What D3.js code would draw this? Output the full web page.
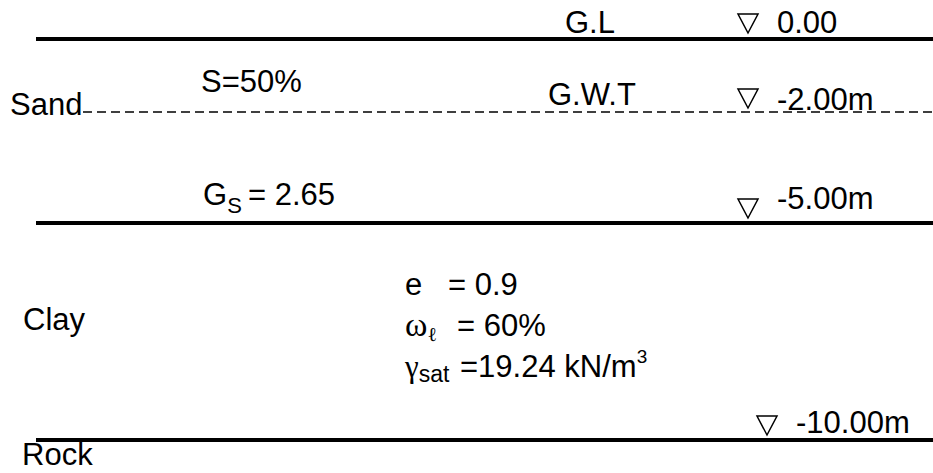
<!DOCTYPE html>
<html>
<head>
<meta charset="utf-8">
<script src="https://cdn.jsdelivr.net/npm/d3@7"></script>
<style>
    body { margin: 0; background: #fff; }
    #vis { display: block; }
</style>
</head>
<body>
<svg id="vis" width="933" height="473"></svg>
<script>
// soil profile data
var levelDepths = [0, 2, 5, 10];
var levelLabels = ['0.00', '-2.00m', '-5.00m', '-10.00m'];
var levelLineTypes = ['solid', 'dashed', 'solid', 'solid'];
var levelNames = ['G.L', 'G.W.T', '', ''];

var layerNames = ['Sand', 'Clay', 'Rock'];

var sandSaturation = '50%';
var sandGs = '2.65';
var clayVoidRatio = '0.9';
var clayLiquidLimit = '60%';
var clayGammaSat = '19.24';

function renderProfile() {
    const width = 933;
    const fontFamily = '"Liberation Sans", Arial, Helvetica, sans-serif';
    const serifFamily = '"Liberation Serif", "Times New Roman", serif';

    var v_svg = d3.select('#vis');

    // depth axis (drawing is not to scale, so piecewise)
    var yScale = d3.scaleLinear()
        .domain(levelDepths)
        .range([39, 112, 223, 440]);

    var levels = levelDepths.map((d, i) => {
        return { depth: d, label: levelLabels[i], type: levelLineTypes[i], name: levelNames[i] };
    });

    // boundary lines
    v_svg.selectAll('line.level')
        .data(levels)
        .enter()
        .append('line')
        .attr('class', 'level')
        .attr('x1', (d) => d.type == 'dashed' ? 83 : 36)
        .attr('x2', width)
        .attr('y1', (d) => yScale(d.depth))
        .attr('y2', (d) => yScale(d.depth))
        .attr('stroke', 'black')
        .attr('stroke-width', (d) => d.type == 'dashed' ? 1.5 : 4)
        .attr('stroke-dasharray', (d) => d.type == 'dashed' ? '9,5' : null);

    // level marker triangles + labels
    var markerX = [748, 748, 748, 767];
    var markerDy = [-6, -4, -5, -5];
    var labelDy = [-6, -2, -14, -7];

    v_svg.selectAll('path.marker')
        .data(levels)
        .enter()
        .append('path')
        .attr('class', 'marker')
        .attr('d', (d, i) => {
            var cx = markerX[i];
            var by = yScale(d.depth) + markerDy[i];
            return 'M' + (cx - 10) + ',' + (by - 19) + 'L' + (cx + 10) + ',' + (by - 19) + 'L' + cx + ',' + by + 'Z';
        })
        .attr('fill', 'none')
        .attr('stroke', 'black')
        .attr('stroke-width', 1.5);

    v_svg.selectAll('text.level-label')
        .data(levels)
        .enter()
        .append('text')
        .attr('class', 'level-label')
        .attr('x', (d, i) => markerX[i] + 29)
        .attr('y', (d, i) => yScale(d.depth) + labelDy[i])
        .attr('font-size', '31px')
        .attr('font-family', fontFamily)
        .text((d) => d.label);

    v_svg.selectAll('text.level-name')
        .data(levels.filter((d) => d.name != ''))
        .enter()
        .append('text')
        .attr('class', 'level-name')
        .attr('x', (d, i) => i == 0 ? 565 : 548)
        .attr('y', (d, i) => yScale(d.depth) + (i == 0 ? -6 : -7))
        .attr('font-size', '31px')
        .attr('font-family', fontFamily)
        .text((d) => d.name);

    // layer names
    var layerPos = [[10, 115], [23, 330], [22, 465]];
    v_svg.selectAll('text.layer')
        .data(layerNames)
        .enter()
        .append('text')
        .attr('class', 'layer')
        .attr('x', (d, i) => layerPos[i][0])
        .attr('y', (d, i) => layerPos[i][1])
        .attr('font-size', '31px')
        .attr('font-family', fontFamily)
        .text((d) => d);

    // sand properties
    v_svg.append('text')
        .attr('x', 201)
        .attr('y', 92)
        .attr('font-size', '31px')
        .attr('font-family', fontFamily)
        .text('S=' + sandSaturation);

    var gs = v_svg.append('text')
        .attr('x', 203)
        .attr('y', 205)
        .attr('font-size', '31px')
        .attr('font-family', fontFamily);
    gs.append('tspan').text('G');
    gs.append('tspan').attr('font-size', '22px').attr('dy', 8).text('S');
    gs.append('tspan').attr('x', 248).attr('dy', -8).text('= ' + sandGs);

    // clay properties
    var e = v_svg.append('text')
        .attr('x', 405)
        .attr('y', 295)
        .attr('font-size', '31px')
        .attr('font-family', fontFamily);
    e.append('tspan').text('e');
    e.append('tspan').attr('x', 448).text('= ' + clayVoidRatio);

    var wl = v_svg.append('text')
        .attr('x', 405)
        .attr('y', 336)
        .attr('font-size', '31px')
        .attr('font-family', fontFamily);
    wl.append('tspan').attr('font-family', serifFamily).attr('font-size', '34px').text('\u03C9');
    wl.append('tspan').attr('font-family', serifFamily).attr('font-size', '20px').attr('dy', 5).text('\u2113');
    wl.append('tspan').attr('x', 457).attr('dy', -5).text('= ' + clayLiquidLimit);

    var gsat = v_svg.append('text')
        .attr('x', 405)
        .attr('y', 377)
        .attr('font-size', '31px')
        .attr('font-family', fontFamily);
    gsat.append('tspan').attr('font-family', serifFamily).attr('font-size', '31px').text('\u03B3');
    gsat.append('tspan').attr('font-size', '23px').attr('dy', 5).text('sat');
    gsat.append('tspan').attr('x', 460).attr('dy', -5).text('=' + clayGammaSat + ' kN/m');
    gsat.append('tspan').attr('font-size', '19px').attr('dy', -14).text('3');
}

renderProfile();
</script>
</body>
</html>
